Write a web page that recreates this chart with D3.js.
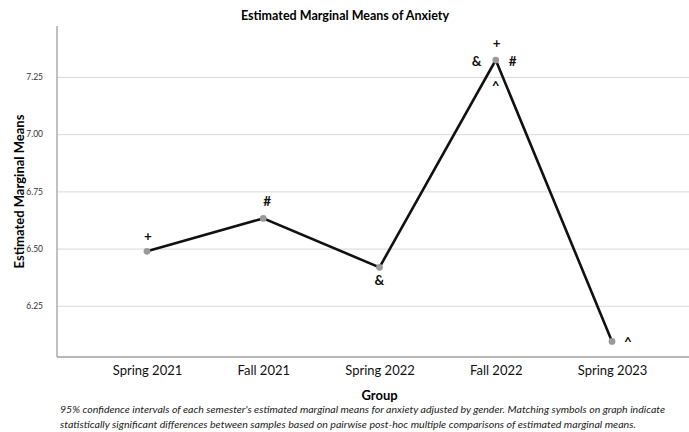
<!DOCTYPE html>
<html>
<head>
<meta charset="utf-8">
<script src="https://cdn.jsdelivr.net/npm/d3@7"></script>
<style>
  body { margin: 0; background: #fff; }
  text { font-family: Lato, "Open Sans", sans-serif; }
</style>
</head>
<body>
<main></main>
<script>
const groups = ["Spring 2021", "Fall 2021", "Spring 2022", "Fall 2022", "Spring 2023"],
  means = [6.488, 6.632, 6.418, 7.324, 6.094],
  yTicks = [6.25, 6.5, 6.75, 7.0, 7.25];

// symbols next to each point: [group, symbol, dx, dy]
const marks = [
  ["Spring 2021", "+", 1, -10],
  ["Fall 2021", "#", 4, -12],
  ["Spring 2022", "&", 0, 18],
  ["Fall 2022", "+", 1, -12],
  ["Fall 2022", "&", -19, 6],
  ["Fall 2022", "#", 17, 6],
  ["Fall 2022", "^", 0, 31],
  ["Spring 2023", "^", 16, 6]
];

const caption = [
  "95% confidence intervals of each semester's estimated marginal means for anxiety adjusted by gender. Matching symbols on graph indicate",
  "statistically significant differences between samples based on pairwise post-hoc multiple comparisons of estimated marginal means."
];

const svgWidth = 689,
  svgHeight = 432,
  plotLeft = 57,
  plotTop = 26,
  plotBottom = 357;

const xScale = d3.scalePoint().domain(groups).range([147, 612]),
  yScale = d3.scaleLinear().domain([6.026, 7.473]).range([plotBottom, plotTop]);

const svg = d3.select("main").append("svg")
  .attr("width", svgWidth)
  .attr("height", svgHeight);

// gridlines
const grid = d3.axisLeft(yScale).tickValues(yTicks).tickSize(-(svgWidth - plotLeft)).tickFormat("");
svg.append("g")
  .attr("transform", `translate(${plotLeft},0)`)
  .call(grid)
  .call(g => g.select(".domain").remove())
  .call(g => g.selectAll("line").attr("stroke", "#d9d9d9").attr("stroke-width", 1));

// y tick labels
const yAxis = d3.axisLeft(yScale).tickValues(yTicks).tickSize(0).tickPadding(14).tickFormat(d3.format(".2f"));
svg.append("g")
  .attr("transform", `translate(${plotLeft},0)`)
  .call(yAxis)
  .call(g => g.select(".domain").remove())
  .call(g => g.selectAll("text").attr("font-size", 8.5).attr("fill", "#333").attr("font-family", "Lato, sans-serif"));

// x labels
const xAxis = d3.axisBottom(xScale).tickSize(0).tickPadding(9);
svg.append("g")
  .attr("transform", `translate(0,${plotBottom})`)
  .call(xAxis)
  .call(g => g.select(".domain").remove())
  .call(g => g.selectAll("text").attr("font-size", 13).attr("fill", "#111").attr("font-family", "Lato, sans-serif"));

// axis lines
svg.append("line").attr("x1", plotLeft).attr("x2", plotLeft).attr("y1", plotTop).attr("y2", plotBottom)
  .attr("stroke", "#a0a0a0").attr("stroke-width", 1.3);
svg.append("line").attr("x1", plotLeft).attr("x2", svgWidth).attr("y1", plotBottom).attr("y2", plotBottom)
  .attr("stroke", "#a0a0a0").attr("stroke-width", 1.3);

// line
const line = d3.line().x((d, i) => xScale(groups[i])).y(d => yScale(d));
svg.append("path")
  .datum(means)
  .attr("d", line)
  .attr("fill", "none")
  .attr("stroke", "#111")
  .attr("stroke-width", 2.6)
  .attr("stroke-linejoin", "miter");

svg.selectAll("circle.pt")
  .data(means)
  .join("circle")
  .attr("class", "pt")
  .attr("cx", (d, i) => xScale(groups[i]))
  .attr("cy", d => yScale(d))
  .attr("r", 3.4)
  .attr("fill", "#9a9a9a");

// significance symbols
svg.selectAll("text.sym")
  .data(marks)
  .join("text")
  .attr("class", "sym")
  .attr("x", d => xScale(d[0]) + d[2])
  .attr("y", d => yScale(means[groups.indexOf(d[0])]) + d[3])
  .attr("text-anchor", "middle")
  .attr("font-size", 13.5)
  .attr("font-weight", "bold")
  .attr("fill", "#111")
  .text(d => d[1]);

// titles
svg.append("text")
  .attr("x", 345).attr("y", 20)
  .attr("text-anchor", "middle")
  .attr("font-size", 12.5).attr("font-weight", "bold")
  .text("Estimated Marginal Means of Anxiety");

svg.append("text")
  .attr("transform", `translate(24,${(plotTop + plotBottom) / 2}) rotate(-90)`)
  .attr("text-anchor", "middle")
  .attr("font-size", 13).attr("font-weight", "bold")
  .text("Estimated Marginal Means");

svg.append("text")
  .attr("x", (xScale(groups[0]) + xScale(groups[4])) / 2).attr("y", 400)
  .attr("text-anchor", "middle")
  .attr("font-size", 13).attr("font-weight", "bold")
  .text("Group");

svg.selectAll("text.cap")
  .data(caption)
  .join("text")
  .attr("class", "cap")
  .attr("x", 60)
  .attr("y", (d, i) => 413 + i * 15)
  .attr("font-size", 9.5)
  .attr("font-style", "italic")
  .attr("fill", "#222")
  .attr("textLength", (d, i) => i === 0 ? 605 : 576)
  .attr("lengthAdjust", "spacingAndGlyphs")
  .text(d => d);
</script>
</body>
</html>
